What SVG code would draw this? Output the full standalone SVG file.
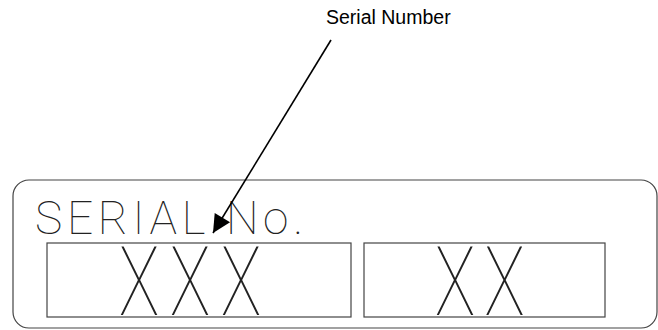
<svg xmlns="http://www.w3.org/2000/svg" width="658" height="330" viewBox="0 0 658 330">
<style>
.frame{fill:none;stroke:#444;stroke-width:1.2}
.cad{font-family:Roboto,Lato,Inter,"DejaVu Sans",sans-serif;font-weight:100;fill:#222}
.lbl{font-family:"Liberation Sans",Arial,sans-serif;font-size:19.5px;fill:#000}
</style>
<defs>
<marker id="ah" viewBox="0 0 10 10" refX="10" refY="5" markerWidth="22" markerHeight="18" markerUnits="userSpaceOnUse" orient="auto">
<path d="M0,0 L10,5 L0,10 z" fill="#000"/>
</marker>
</defs>
<rect width="658" height="330" fill="#fff"/>
<g id="plate">
<rect class="frame" x="13" y="180" width="644" height="148" rx="16" ry="16"/>
<text class="cad" font-size="46" x="35" y="234" textLength="268" lengthAdjust="spacing">SERIAL No.</text>
</g>
<g id="box-xxx">
<rect class="frame" x="47" y="243" width="304" height="74"/>
<text class="cad" font-size="96" transform="translate(119,315) scale(0.7,1)" textLength="203" lengthAdjust="spacing">XXX</text>
</g>
<g id="box-xx">
<rect class="frame" x="364" y="243" width="241" height="74"/>
<text class="cad" font-size="96" transform="translate(435,315) scale(0.7,1)" textLength="128" lengthAdjust="spacing">XX</text>
</g>
<g id="label">
<text class="lbl" x="326" y="24">Serial Number</text>
</g>
<g id="connectors">
<line x1="331" y1="40" x2="213" y2="233" stroke="#000" stroke-width="1.6" marker-end="url(#ah)"/>
</g>
</svg>
